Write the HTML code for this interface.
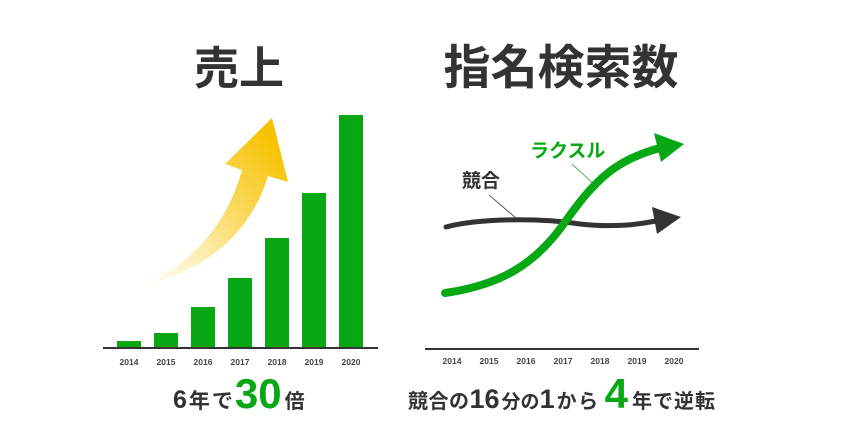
<!DOCTYPE html>
<html><head><meta charset="utf-8"><style>
html,body{margin:0;padding:0;background:#fff}
svg{display:block}
text{font-family:"Liberation Sans","Noto Sans CJK JP",sans-serif;font-weight:bold}
</style></head><body>
<svg width="850" height="444" viewBox="0 0 850 444" xmlns="http://www.w3.org/2000/svg">
<defs>
<linearGradient id="g" x1="145" y1="285" x2="285" y2="150" gradientUnits="userSpaceOnUse">
<stop offset="0" stop-color="#fff6d0" stop-opacity="0.3"/>
<stop offset="0.5" stop-color="#fbe07a"/>
<stop offset="1" stop-color="#f6c200"/>
</linearGradient>
</defs>
<text x="239" y="84" font-size="45" fill="#333" text-anchor="middle">売上</text>
<text x="561" y="84" font-size="47" fill="#333" text-anchor="middle">指名検索数</text>

<path d="M145,285 C190,262 225,230 242,170 L225,164 L272,118 L288,182 L268,176 C250,235 205,270 145,285 Z" fill="url(#g)"/>

<g fill="#08a815">
<rect x="117" y="341" width="24" height="7"/>
<rect x="154" y="333" width="24" height="15"/>
<rect x="191" y="307" width="24" height="41"/>
<rect x="228" y="278" width="24" height="70"/>
<rect x="265" y="238" width="24" height="110"/>
<rect x="302" y="193" width="24" height="155"/>
<rect x="339" y="115" width="24" height="233"/>
</g>
<rect x="103" y="347" width="275" height="2" fill="#333"/>
<g font-size="8.5" fill="#444" text-anchor="middle">
<text x="129" y="365">2014</text><text x="166" y="365">2015</text><text x="203" y="365">2016</text>
<text x="240" y="365">2017</text><text x="277" y="365">2018</text><text x="314" y="365">2019</text><text x="351" y="365">2020</text>
</g>

<rect x="425" y="348" width="274" height="2" fill="#333"/>
<g font-size="8.5" fill="#444" text-anchor="middle">
<text x="452" y="364">2014</text><text x="489" y="364">2015</text><text x="526" y="364">2016</text>
<text x="563" y="364">2017</text><text x="600" y="364">2018</text><text x="637" y="364">2019</text><text x="674" y="364">2020</text>
</g>
<path d="M446,227 C480,218 540,218 580,224 C615,228 640,224 656,221" fill="none" stroke="#333" stroke-width="5" stroke-linecap="round"/>
<path d="M652,207 L681,217 L657,234 Z" fill="#333"/>
<path d="M445,293 C500,285 535,265 565,222 C595,180 615,160 660,148" fill="none" stroke="#08a815" stroke-width="8" stroke-linecap="round"/>
<path d="M654,133 L684,144 L661,162 Z" fill="#08a815"/>
<line x1="489" y1="195" x2="516" y2="218" stroke="#333" stroke-width="0.8"/>
<line x1="572" y1="164" x2="598" y2="188" stroke="#08a815" stroke-width="0.8"/>
<text x="462" y="187" font-size="19" fill="#333">競合</text>
<text x="530" y="157" font-size="19" fill="#08a815">ラクスル</text>

<text x="173" y="408" fill="#333"><tspan font-size="25">6</tspan><tspan font-size="21" dx="2" letter-spacing="2">年で</tspan><tspan font-size="42" fill="#08a815" dx="0">30</tspan><tspan font-size="20" dx="3">倍</tspan></text>
<text x="408" y="408" fill="#333"><tspan font-size="20" letter-spacing="0.5">競合の</tspan><tspan font-size="27">16</tspan><tspan font-size="19" dx="2">分の</tspan><tspan font-size="27">1</tspan><tspan font-size="20" dx="2" letter-spacing="1.5">から</tspan><tspan font-size="42" fill="#08a815" dx="5">4</tspan><tspan font-size="20" dx="4" letter-spacing="1">年で逆転</tspan></text>
</svg>
</body></html>
